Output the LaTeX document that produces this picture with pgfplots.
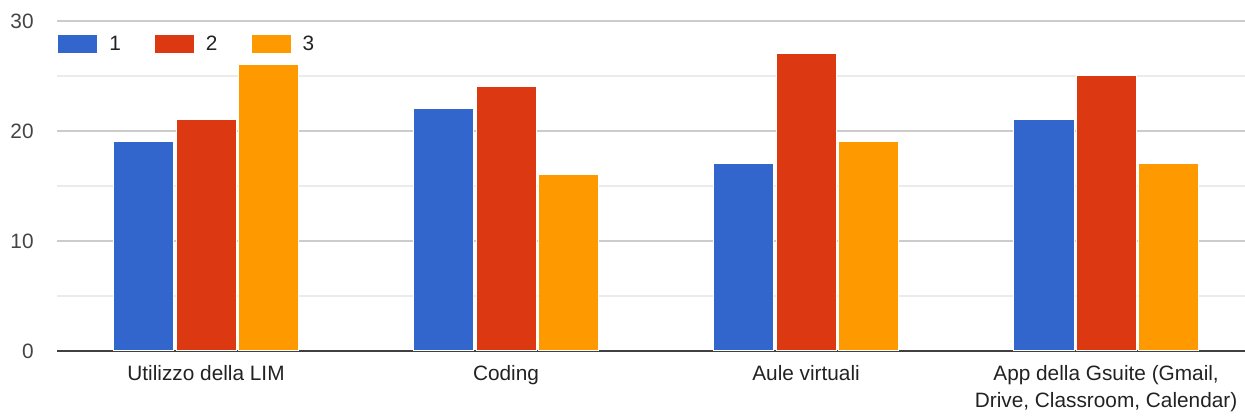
\documentclass[border=0pt]{standalone}
\usepackage{fontspec}
\setmainfont{Liberation Sans}
\usepackage{pgfplots}
\pgfplotsset{compat=1.18}
\definecolor{cBlue}{HTML}{3366CC}
\definecolor{cRed}{HTML}{DC3912}
\definecolor{cOrange}{HTML}{FF9900}
\definecolor{gMaj}{HTML}{CCCCCC}
\definecolor{gMin}{HTML}{EBEBEB}
\definecolor{txt}{HTML}{222222}
\definecolor{tick}{HTML}{444444}
\begin{document}
\begin{tikzpicture}
\path[use as bounding box] (-28.5pt,-32.5pt) rectangle (594pt,175.5pt);
\begin{axis}[
    scale only axis,
    width=594pt, height=165pt,
    ybar,
    bar width=0.2,
    xmin=-0.4967, xmax=3.463,
    ymin=0, ymax=30,
    ytick={0,10,20,30},
    minor ytick={5,15,25},
    xtick={0,1,2,3},
    xticklabels={Utilizzo della LIM, Coding, Aule virtuali, {App della Gsuite (Gmail,\\Drive, Classroom, Calendar)}},
    axis line style={draw=none},
    major tick length=0pt, minor tick length=0pt,
    ymajorgrids, yminorgrids,
    major grid style={gMaj, line width=0.6pt},
    minor grid style={gMin, line width=0.6pt},
    extra y ticks={0},
    extra y tick labels={},
    extra y tick style={grid=major, major grid style={color=black!75, line width=0.9pt}},
    /pgf/number format/assume math mode=true,
    yticklabel style={font=\fontsize{10.4}{12}\selectfont, text=tick, anchor=east, inner sep=0pt, xshift=-11.5pt},
    xticklabel style={font=\fontsize{10.4}{13.5}\selectfont, text=txt, anchor=north, align=center, inner sep=0pt, yshift=-7pt},
    legend columns=3,
    legend style={at={(0,1)}, anchor=north west, yshift=-6.5pt, draw=none, fill=none,
        inner sep=0pt, font=\fontsize{10.4}{12}\selectfont, text=txt,
        /tikz/every even column/.append style={column sep=16.5pt},
        nodes={inner sep=0pt, anchor=west}},
    legend image code/.code={\fill[#1] (0pt,-4.75pt) rectangle (20pt,4.75pt); \path (25.5pt,0pt);},
]
\addplot[fill=cBlue, draw=white, line width=0.5pt, bar shift=-0.207] coordinates {(0,19) (1,22) (2,17) (3,21)};
\addplot[fill=cRed, draw=white, line width=0.5pt, bar shift=0] coordinates {(0,21) (1,24) (2,27) (3,25)};
\addplot[fill=cOrange, draw=white, line width=0.5pt, bar shift=0.207] coordinates {(0,26) (1,16) (2,19) (3,17)};
\legend{1,2,3}
\end{axis}
\end{tikzpicture}
\end{document}
